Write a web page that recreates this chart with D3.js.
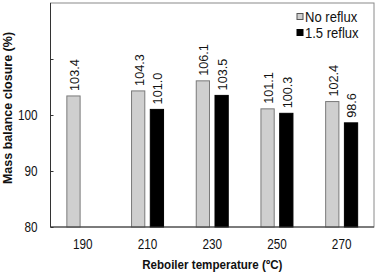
<!DOCTYPE html>
<html>
<head>
<meta charset="utf-8">
<script src="https://cdn.jsdelivr.net/npm/d3@7"></script>
<style>
  body { margin: 0; background: #fff; }
  svg { display: block; font-family: 'Liberation Sans', Arial, sans-serif; }
</style>
</head>
<body>
<svg id="chart" width="378" height="274"></svg>
<script>
const temps = ['190', '210', '230', '250', '270'];
const seriesKeys = ['No reflux', '1.5 reflux'];
const noReflux = [103.4, 104.3, 106.1, 101.1, 102.4];
const reflux15 = [null, 101.0, 103.5, 100.3, 98.6];
const yTicks = [80, 90, 100, 110];
const yLabels = [80, 90, 100];

const svg = d3.select('#chart');
const margin = { top: 3, right: 4, bottom: 47, left: 50.5 };
const width = +svg.attr('width') - margin.left - margin.right;
const height = +svg.attr('height') - margin.top - margin.bottom;

// horizontal text in the original is a bit narrow
const squeeze = 0.84;

const g = svg.append('g')
  .attr('transform', `translate(${margin.left},${margin.top})`);

const x0 = d3.scaleBand().domain(temps).range([0, width]);
const x1 = d3.scaleBand().domain(seriesKeys)
  .range([x0.bandwidth() / 2 - 16.5, x0.bandwidth() / 2 + 16.5])
  .paddingInner(0.24);
const y = d3.scaleLinear().domain([80, 120]).range([height, 0]);

const fill = d3.scaleOrdinal().domain(seriesKeys).range(['#cfcfcf', '#000000']);
const stroke = d3.scaleOrdinal().domain(seriesKeys).range(['#7a7a7a', '#000000']);

// frame
g.append('rect')
  .attr('x', 0).attr('y', 0)
  .attr('width', width).attr('height', height)
  .attr('fill', 'none')
  .attr('stroke', '#8a8a8a');

const rows = temps.map((t, i) => ({
  temp: t,
  values: [
    { key: 'No reflux', value: noReflux[i] },
    { key: '1.5 reflux', value: reflux15[i] }
  ].filter(d => d.value != null)
}));

const groups = g.selectAll('.grp')
  .data(rows)
  .enter().append('g')
    .attr('class', 'grp')
    .attr('transform', d => `translate(${x0(d.temp)},0)`);

groups.selectAll('rect')
  .data(d => d.values)
  .enter().append('rect')
    .attr('x', d => x1(d.key) + 0.5)
    .attr('y', d => y(d.value))
    .attr('width', x1.bandwidth() - 1)
    .attr('height', d => height - y(d.value))
    .attr('fill', d => fill(d.key))
    .attr('stroke', d => stroke(d.key))
    .attr('stroke-width', 1);

groups.selectAll('text.val')
  .data(d => d.values)
  .enter().append('text')
    .attr('class', 'val')
    .attr('transform', d => `translate(${x1(d.key) + x1.bandwidth() / 2 + 1},${y(d.value) - 5}) rotate(-90) scale(1.04,1)`)
    .attr('dy', '0.36em')
    .attr('font-size', 12.2)
    .attr('fill', '#111')
    .text(d => d.value.toFixed(1));

// y axis
const yAxis = g.append('g')
  .call(d3.axisLeft(y).tickValues(yTicks).tickSize(-3)
    .tickFormat(d => yLabels.includes(d) ? d : ''))
  .attr('font-family', null)
  .attr('font-size', 14);
yAxis.select('.domain').attr('stroke', '#333').attr('d', `M0,0V${height}`);
yAxis.selectAll('.tick line').attr('stroke', '#333');
yAxis.selectAll('.tick text')
  .attr('x', -13 / squeeze)
  .attr('transform', `scale(${squeeze},1)`)
  .attr('fill', '#111');

// x axis
const xAxis = g.append('g')
  .attr('transform', `translate(0,${height})`)
  .call(d3.axisBottom(x0).tickSize(0).tickPadding(12))
  .attr('font-family', null)
  .attr('font-size', 14);
xAxis.select('.domain').attr('stroke', '#333').attr('d', `M0,0H${width}`);
xAxis.selectAll('.tick text')
  .attr('transform', `scale(${squeeze},1)`)
  .attr('fill', '#111');

// titles
svg.append('text')
  .attr('transform', `translate(${margin.left + width / 2},269) scale(0.86,1)`)
  .attr('text-anchor', 'middle')
  .attr('font-size', 13.5)
  .attr('font-weight', 'bold')
  .attr('fill', '#111')
  .text('Reboiler temperature (ºC)');

svg.append('text')
  .attr('transform', 'translate(12,108) rotate(-90)')
  .attr('text-anchor', 'middle')
  .attr('font-size', 12.5)
  .attr('font-weight', 'bold')
  .attr('fill', '#111')
  .text('Mass balance closure (%)');

// legend
const legend = svg.append('g')
  .attr('transform', 'translate(296.5,13)')
  .selectAll('.legend')
  .data(seriesKeys)
  .enter().append('g')
    .attr('class', 'legend')
    .attr('transform', (d, i) => `translate(0,${i * 16})`);

legend.append('rect')
  .attr('x', 0.5).attr('y', 0.5)
  .attr('width', 6).attr('height', 6)
  .attr('fill', fill)
  .attr('stroke', d => d === 'No reflux' ? '#555' : '#000');

legend.append('text')
  .attr('transform', 'translate(8.5,8.5) scale(0.9,1)')
  .attr('font-size', 14.5)
  .attr('fill', '#111')
  .text(d => d);
</script>
</body>
</html>
